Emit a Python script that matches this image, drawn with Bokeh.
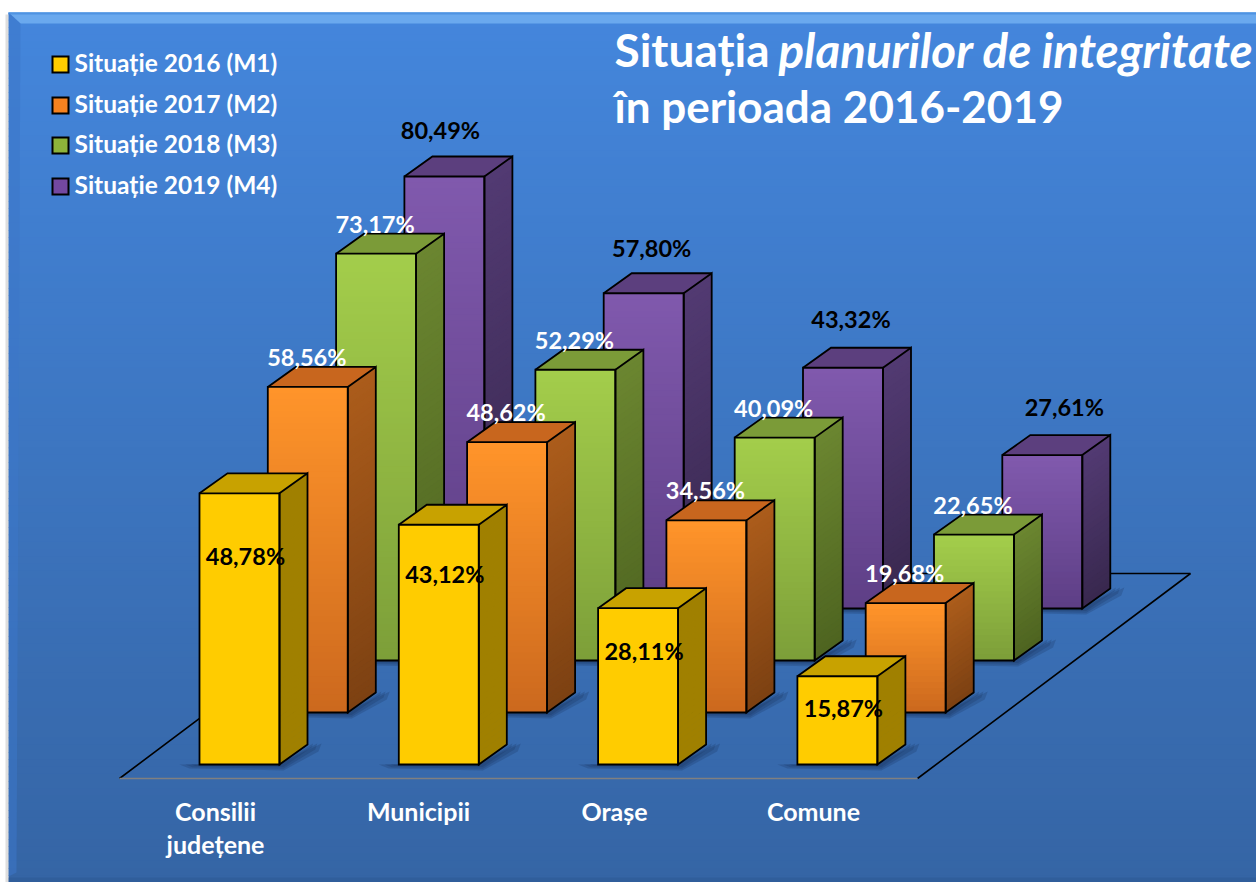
from bokeh.plotting import figure
from bokeh.models import ColumnDataSource, Range1d
from bokeh.core.properties import value
from bokeh.embed import file_html
from bokeh.resources import INLINE

# ---- data ----
categories = [["Consilii", "județene"], ["Municipii"], ["Orașe"], ["Comune"]]
series_names = ["Situație 2016 (M1)", "Situație 2017 (M2)", "Situație 2018 (M3)", "Situație 2019 (M4)"]
m1 = [48.78, 43.12, 28.11, 15.87]
m2 = [58.56, 48.62, 34.56, 19.68]
m3 = [73.17, 52.29, 40.09, 22.65]
m4 = [80.49, 57.80, 43.32, 27.61]
# M4 bars as they are drawn in the picture (the two tallest stand shorter than their labels)
m4_drawn = [77.7, 56.7, 43.3, 27.6]
labels_m1 = ["48,78%", "43,12%", "28,11%", "15,87%"]
labels_m2 = ["58,56%", "48,62%", "34,56%", "19,68%"]
labels_m3 = ["73,17%", "52,29%", "40,09%", "22,65%"]
labels_m4 = ["80,49%", "57,80%", "43,32%", "27,61%"]

# ---- layout and style ----
W, H = 1256, 882
OX, OY = 0, 0
FONT = "Lato"
X0, CAT_STEP, ROW_DX, ROW_DY = 199.0, 199.3, 68.3, 52.0
BASE_Y, BAR_W, DEPTH_X, DEPTH_Y, PX_PER_UNIT = 764.0, 80.0, 28.0, 20.0, 5.56
FRONT = [("#ffcc00", "#ffcc00"), ("#ff942a", "#cc691e"), ("#a3cd4b", "#7d9f39"), ("#8059ad", "#5e3f86")]
SIDE = [("#a08000", "#a08000"), ("#ab5c1b", "#7d4112"), ("#6b8630", "#4e6420"), ("#523a72", "#39284f")]
TOP = ["#c8a200", "#c8661e", "#7b9b38", "#5c3f7e"]
LEG = ["#ffcc00", "#f58220", "#8db33a", "#7348a0"]
LABEL_COL = ["black", "white", "white", "black"]
M1_LABEL_DY = [65, 51, 45, 34]
M4_LABEL_DY = [-44, -43, -47, -46]
M4_LABEL_DX = [-3, 9, 9, 23]
ROW_LABEL_DY = -28
CAT_X = [215, 418, 614, 813]
TEXT_DY = -2


def mix(a, b, t):
    ca = [int(a[i:i + 2], 16) for i in (1, 3, 5)]
    cb = [int(b[i:i + 2], 16) for i in (1, 3, 5)]
    return "#%02x%02x%02x" % tuple(round(p + (q - p) * t) for p, q in zip(ca, cb))


p = figure(width=W, height=H, output_backend="svg", toolbar_location=None,
           x_range=Range1d(0, W), y_range=Range1d(H, 0),
           x_axis_location=None, y_axis_location=None,
           min_border=0, outline_line_color=None, background_fill_color="white",
           border_fill_color="white")
p.grid.visible = False

shapes = dict(xs=[], ys=[], fc=[], fa=[], lc=[], lw=[])


def shape(xs, ys, fill=None, alpha=1.0, line=None, width=0.0):
    shapes["xs"].append([x - OX for x in xs])
    shapes["ys"].append([y - OY for y in ys])
    shapes["fc"].append(fill if fill else "#000000")
    shapes["fa"].append(alpha if fill else 0.0)
    shapes["lc"].append(line if line else "#000000")
    shapes["lw"].append(width if line else 0.0)


# panel with vertical gradient
P_T, P_B, P_L, P_R = 12.0, 882.0, 8.0, 1256.0
n = 120
for i in range(n):
    y0 = P_T + (P_B - P_T) * i / n
    y1 = P_T + (P_B - P_T) * (i + 1) / n + 0.8
    shape([P_L, P_R, P_R, P_L], [y0, y0, y1, y1], mix("#4486dc", "#3565a5", i / (n - 1)))
# bevels
shape([P_L, P_R, P_R, P_L + 12], [P_T, P_T, P_T + 11, P_T + 11], "#6aa9ee")
shape([P_L, P_R, P_R, P_L], [P_T, P_T, P_T + 2, P_T + 2], "#4f93e2")
shape([P_L, P_L + 12, P_L + 8, P_L], [P_T, P_T + 11, 872, 876], "#3c77c8", 0.55)
shape([P_L, P_R, P_R, P_L], [877, 877, P_B, P_B], "#2f5c98", 0.8)
shape([5, P_L, P_L, 5], [P_T + 2, P_T + 2, P_B, P_B], "#c8c8c8", 0.6)

# floor lines
FX0, FX1, FBY = 119.0, 917.0, 778.0
BACK_Y, BACK_R = 573.0, 1190.0
BACK_L = BACK_R - (FX1 - FX0)
shape([FX0, BACK_L], [FBY, BACK_Y], line="#000000", width=1.6)
shape([BACK_L, BACK_R], [BACK_Y, BACK_Y], line="#000000", width=1.6)
shape([BACK_R, FX1], [BACK_Y, FBY], line="#000000", width=1.6)
shape([FX0, FX1], [FBY, FBY], line="#808080", width=1.6)

rows = [m1, m2, m3, m4_drawn]
for s in (3, 2, 1, 0):
    for c, v in enumerate(rows[s]):
        x0 = X0 + c * CAT_STEP + s * ROW_DX
        x1 = x0 + BAR_W
        yb = BASE_Y - s * ROW_DY
        yt = yb - v * PX_PER_UNIT
        dx, dy = DEPTH_X, DEPTH_Y
        # soft shadow on the floor
        for k in (10, 7, 4):
            shape([x0 - k * 2, x1, x1 + dx + k * 1.4, x1 + dx + k * 1.1, x1 + 4, x0 - k],
                  [yb, yb - 1, yb - dy - 1, yb - dy + k * .7, yb + k * .6, yb + k * .4],
                  "#17335c", 0.24)
        # gradient faces
        m = max(3, int((yb - yt) / 6))
        for i in range(m):
            a = yt + (yb - yt) * i / m
            b = yt + (yb - yt) * (i + 1) / m + (0.8 if i < m - 1 else 0)
            t = i / max(1, m - 1)
            shape([x0, x1, x1, x0], [a, a, b, b], mix(FRONT[s][0], FRONT[s][1], t))
            shape([x1, x1 + dx, x1 + dx, x1], [a, a - dy, b - dy, b], mix(SIDE[s][0], SIDE[s][1], t))
        shape([x0, x0 + dx, x1 + dx, x1], [yt, yt - dy, yt - dy, yt], TOP[s])
        # outlines
        shape([x0, x1, x1, x0, x0], [yt, yt, yb, yb, yt], line="#000000", width=1.8)
        shape([x1, x1 + dx, x1 + dx, x1], [yb, yb - dy, yt - dy, yt], line="#000000", width=1.8)
        shape([x0, x0 + dx, x1 + dx, x0 + dx, x0], [yt, yt - dy, yt - dy, yt - dy, yt], line="#000000", width=1.8)

# legend swatches
LEG_Y = [64, 105, 145, 186]
for col, ly in zip(LEG, LEG_Y):
    shape([52, 68, 68, 52, 52], [ly - 8, ly - 8, ly + 8, ly + 8, ly - 8], col, 1.0, "#000000", 2.0)

src = ColumnDataSource(shapes)
p.patches("xs", "ys", source=src, fill_color="fc", fill_alpha="fa",
          line_color="lc", line_width="lw", line_join="miter")


def text(x, y, s, size, color="white", style="bold", align="left"):
    p.text([x - OX], [y - OY + TEXT_DY], text=[s], text_font=value(FONT), text_font_size=f"{size}px",
           text_font_style=style, text_color=color, text_align=align, text_baseline="middle")


# value labels
label_rows = [labels_m1, labels_m2, labels_m3, labels_m4]
for s in range(4):
    for c, lab in enumerate(label_rows[s]):
        x0 = X0 + c * CAT_STEP + s * ROW_DX
        yb = BASE_Y - s * ROW_DY
        yt = yb - rows[s][c] * PX_PER_UNIT
        if s == 0:
            lx, ly = x0 + BAR_W / 2 + 7, yt + M1_LABEL_DY[c]
        elif s == 3:
            lx, ly = x0 + BAR_W / 2 + M4_LABEL_DX[c], yt + M4_LABEL_DY[c]
        else:
            lx, ly = x0 + BAR_W / 2, yt + ROW_LABEL_DY
        text(lx - 1, ly, lab, 23.5, LABEL_COL[s], align="center")

# legend texts
for name, ly in zip(series_names, LEG_Y):
    text(74, ly, name, 24.5)

# category labels
for cx, cat in zip(CAT_X, categories):
    for j, line in enumerate(cat):
        text(cx, 812 + j * 33, line, 25, align="center")

# title
text(614, 51, "Situația", 46)
text(778, 51, "planurilor de integritate", 47.5, style="bold italic")
text(614, 107, "în perioada 2016-2019", 44)

open("out.html", "w").write(file_html(p, INLINE))
